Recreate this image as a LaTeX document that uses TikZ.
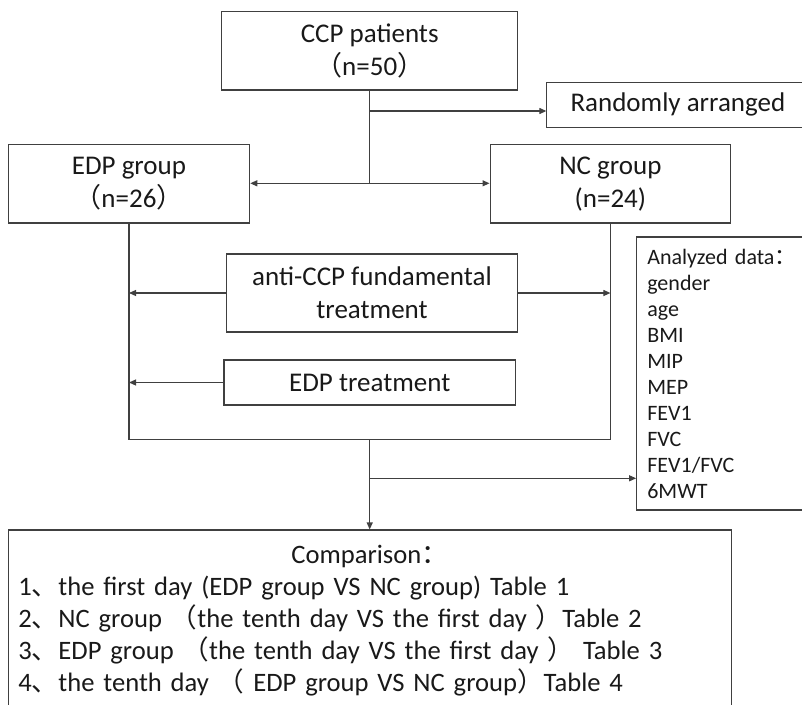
\documentclass[tikz,border=0pt]{standalone}
\usepackage{fontspec}
\setmainfont{Carlito}
\newfontfamily\cjk{Noto Sans CJK SC}
\newcommand{\cj}[1]{{\cjk #1}}
\usetikzlibrary{arrows.meta, positioning}

\begin{document}
\begin{tikzpicture}[x=1pt, y=-1pt, node distance = 133pt, on grid,
    box/.style = {draw=black!75, line width=1.1pt, text=black!90, align=center, inner sep=0pt, font=\fontsize{27}{33}\selectfont},
    line/.style = {draw=black!75, line width=1.1pt},
    arrow/.style = {line, -{Triangle[length=7pt, width=6pt]}}]

    \useasboundingbox (0,0) rectangle (802,704);

    \node (ccp) [box, minimum width=296pt, minimum height=78.3pt] at (369.7,50.8) {CCP patients\\\cj{（}n=50\cj{）}};
    \node (rand) [box, below right = 53.9pt and 308.2pt of ccp, minimum width=262pt, minimum height=44.7pt] {Randomly arranged};
    \node (edp) [box, below left = 133pt and 240.7pt of ccp, minimum width=241.4pt, minimum height=78.3pt] {EDP group\\\cj{（}n=26\cj{）}};
    \node (nc) [box, below right = 133pt and 240.7pt of ccp, minimum width=240.7pt, minimum height=78.3pt] {NC group\\(n=24)};
    \node (anti) [box, below right = 242.2pt and 2.3pt of ccp, minimum width=290.6pt, minimum height=78pt] {anti-CCP fundamental\\treatment};
    \node (edptr) [box, below = 331.7pt of ccp, minimum width=291.4pt, minimum height=45pt] {EDP treatment};
    \node (data) [box, below right = 322.7pt and 362.6pt of ccp, align=left, text width=170pt, inner xsep=10.6pt, minimum height=273pt, font=\fontsize{22}{26}\selectfont]
        {Analyzed data\cj{：}\\gender\\age\\BMI\\MIP\\MEP\\FEV1\\FVC\\FEV1/FVC\\6MWT};
    \node (comp) [box, below = 570.2pt of ccp, align=left, text width=702.7pt, inner xsep=10pt, minimum height=182pt, font=\fontsize{26.6}{32}\selectfont]
        {\makebox[702.7pt]{Comparison\cj{：}}\\
         1\cj{、}the first day (EDP group VS NC group) Table 1\\
         2\cj{、}NC group \cj{（}the tenth day VS the first day \cj{）}Table 2\\
         3\cj{、}EDP group \cj{（}the tenth day VS the first day \cj{）} Table 3\\
         4\cj{、}the tenth day \cj{（} EDP group VS NC group\cj{）}Table 4};

    % junctions
    \coordinate (j0) at (ccp.south |- 0,111);
    \coordinate (j1) at (ccp.south |- 0,183.3);
    \coordinate (bl) at (edp.south |- 0,439.3);
    \coordinate (br) at (nc.south |- 0,439.3);
    \coordinate (bm) at (ccp.south |- 0,439.3);
    \coordinate (j2) at (ccp.south |- 0,478.3);

    \draw [line] (ccp) -- (j1);
    \draw [arrow] (j0) -- (j0 -| rand.west);
    \draw [arrow] (j1) -- (j1 -| edp.east);
    \draw [arrow] (j1) -- (j1 -| nc.west);
    \draw [line] (edp) -- (bl) -- (br) -- (nc);
    \draw [arrow] (anti) -- (anti -| bl);
    \draw [arrow] (anti) -- (anti -| br);
    \draw [arrow] (edptr) -- (edptr -| bl);
    \draw [arrow] (bm) -- (comp);
    \draw [arrow] (j2) -- (j2 -| data.west);

\end{tikzpicture}
\end{document}
